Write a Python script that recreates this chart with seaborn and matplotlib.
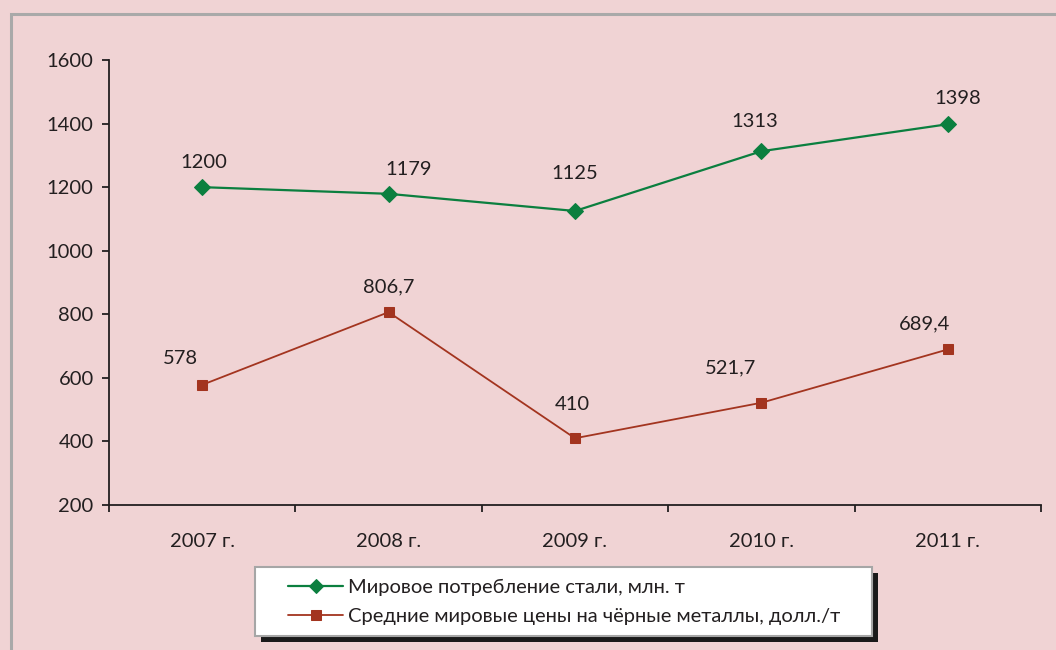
import matplotlib
matplotlib.use('Agg')
import matplotlib.pyplot as plt
from matplotlib.patches import Rectangle
import seaborn as sns
import numpy as np

# data
years = ['2007 г.', '2008 г.', '2009 г.', '2010 г.', '2011 г.']
steel = [1200, 1179, 1125, 1313, 1398]
prices = [578, 806.7, 410, 521.7, 689.4]
steel_name = 'Мировое потребление стали, млн. т'
prices_name = 'Средние мировые цены на чёрные металлы, долл./т'
yticks = [200, 400, 600, 800, 1000, 1200, 1400, 1600]

# label nudges in pixels (x, y)
steel_off = [(2, 25), (20, 24), (0, 37), (-7, 30), (10, 26)]
prices_off = [(-22, 26), (0, 25), (-3, 34), (-31, 35), (-23, 26)]

bg = '#F0D3D4'
green = '#0B7F3F'
red = '#A3341F'
ink = '#231F20'
fs = 14.5

sns.set_theme(style='white')
plt.rcParams['font.family'] = ['Lato', 'DejaVu Sans']
plt.rcParams['text.color'] = ink

fig = plt.figure(figsize=(10.56, 6.5), dpi=100, facecolor=bg)
ax = fig.add_axes([109/1056, 1-505/650, (1041-109)/1056, (505-60)/650])
ax.set_facecolor(bg)

sns.lineplot(x=years, y=steel, ax=ax, color=green, marker='D', markersize=8,
             markeredgecolor=green, linewidth=1.6, label=steel_name, sort=False)
sns.lineplot(x=years, y=prices, ax=ax, color=red, marker='s', markersize=7.5,
             markeredgecolor=red, linewidth=1.3, label=prices_name, sort=False)

def fmt(v):
    s = ('%.1f' % v).rstrip('0').rstrip('.')
    return s.replace('.', ',')

for i, v in enumerate(steel):
    ax.annotate(fmt(v), (i, v), xytext=steel_off[i], textcoords='offset pixels',
                ha='center', va='center', fontsize=fs, color=ink)
for i, v in enumerate(prices):
    ax.annotate(fmt(v), (i, v), xytext=prices_off[i], textcoords='offset pixels',
                ha='center', va='center', fontsize=fs, color=ink)

ax.set_xlim(-0.5, len(years) - 0.5)
ax.set_ylim(200, 1600)
ax.set_yticks(yticks)
ax.set_xticks(range(len(years)))
ax.set_xticklabels(years)
ax.set_xticks(np.arange(len(years) + 1) - 0.5, minor=True)
ax.tick_params(axis='x', which='major', length=0, pad=20, labelsize=fs, labelcolor=ink)
ax.tick_params(axis='x', which='minor', length=5, width=1.3, color=ink, direction='out', bottom=True)
ax.tick_params(axis='y', length=5, width=1.3, color=ink, direction='out', left=True,
               labelsize=fs, labelcolor=ink, pad=6)
for side in ['top', 'right']:
    ax.spines[side].set_visible(False)
for side in ['left', 'bottom']:
    ax.spines[side].set_color(ink)
    ax.spines[side].set_linewidth(1.3)
ax.set_xlabel('')
ax.set_ylabel('')

leg = ax.legend(loc='center left', bbox_to_anchor=(288/1056, 1-602/650),
                bbox_transform=fig.transFigure, frameon=False,
                fontsize=fs, handlelength=2.75, handletextpad=0.25, borderpad=0,
                labelspacing=0.6, borderaxespad=0, markerscale=0.9)

# legend box, its shadow and the outer grey frame
bx0, bx1, by0, by1 = 255, 872, 567, 636
fig.patches.append(Rectangle(((bx0 + 6)/1056, 1-(by1 + 6)/650), (bx1-bx0)/1056, (by1-by0)/650,
                             transform=fig.transFigure, facecolor='#1a1a1a',
                             edgecolor='none', zorder=-2))
fig.patches.append(Rectangle((bx0/1056, 1-by1/650), (bx1-bx0)/1056, (by1-by0)/650,
                             transform=fig.transFigure, facecolor='white',
                             edgecolor='#A6A6A6', linewidth=1.5, zorder=-1))
fig.patches.append(Rectangle((11/1056, -0.2), 1.2, 1.2 - 14/650,
                             transform=fig.transFigure, facecolor='none',
                             edgecolor='#A9A9A9', linewidth=2.2, zorder=-3))

fig.savefig('out.png', dpi=100, facecolor=bg)
